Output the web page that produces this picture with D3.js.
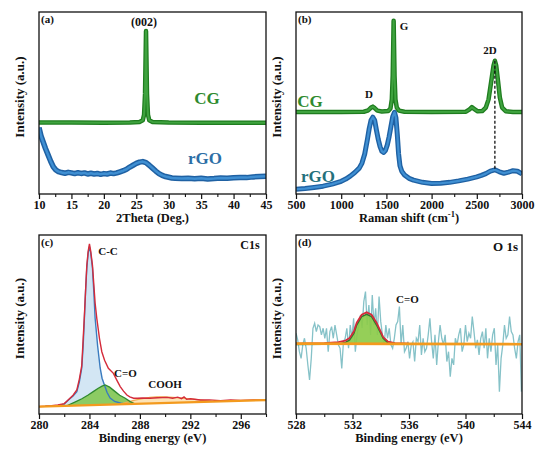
<!DOCTYPE html>
<html><head><meta charset="utf-8">
<script src="https://cdn.jsdelivr.net/npm/d3@7"></script>
<style>
body{margin:0;background:#fff}
svg{display:block}
text{font-family:"Liberation Serif","Times New Roman",serif;font-weight:bold}
</style>
</head><body>
<svg id="chart" width="540" height="451"></svg>
<script>
// ---------- Panel (a) XRD ----------
const xrdTicks = [10, 15, 20, 25, 30, 35, 40, 45];
const xrdMinor = [12.5, 17.5, 22.5, 27.5, 32.5, 37.5, 42.5];
const xrdCgAngle = [10, 15, 20, 24, 25.5, 26.0, 26.2, 26.35, 26.5, 26.65, 26.8, 27.0, 27.5, 30, 35, 40, 45];
const xrdCgInt   = [39.3, 39.3, 39.2, 39.3, 39.6, 40.5, 43.5, 55, 89.6, 55, 43.5, 40.5, 39.6, 39.3, 39.2, 39.2, 39.2];
const xrdRgoAngle = [10, 10.3, 10.6, 11, 11.4, 11.8, 12.2, 12.6, 13, 13.5, 14, 14.5, 15, 15.5, 16, 16.5, 17, 17.5, 18, 18.5, 19, 19.5, 20, 20.5, 21, 21.5, 22, 22.5, 23, 23.5, 24, 24.5, 25, 25.5, 26, 26.5, 27, 27.5, 28, 28.5, 29, 29.5, 30, 30.5, 31, 32, 33, 34, 35, 36, 37, 38, 39, 40, 41, 42, 43, 44, 45];
const xrdRgoInt   = [36.5, 32, 29, 25, 21.5, 18, 15, 13.2, 12.3, 11.8, 11.4, 11.9, 11.6, 11.2, 11.7, 11.3, 11.6, 11.0, 11.4, 11.0, 11.3, 10.8, 11.2, 11.0, 11.5, 11.2, 11.6, 12.2, 12.8, 13.6, 14.8, 15.8, 16.8, 17.5, 17.8, 17.2, 15.8, 14.2, 12.6, 11.2, 10.2, 9.6, 9.2, 8.8, 8.7, 8.5, 8.6, 8.4, 8.6, 8.3, 8.5, 8.8, 8.6, 8.9, 9.1, 9.0, 9.4, 9.6, 9.8];

// ---------- Panel (b) Raman ----------
const ramanTicks = [500, 1000, 1500, 2000, 2500, 3000];
const ramanMinor = [750, 1250, 1750, 2250, 2750];
const ramanCgShift = [500, 1000, 1250, 1300, 1330, 1350, 1370, 1400, 1450, 1520, 1545, 1560, 1570, 1580, 1590, 1600, 1615, 1640, 1700, 2000, 2380, 2420, 2445, 2470, 2510, 2560, 2600, 2630, 2660, 2685, 2700, 2715, 2735, 2755, 2780, 2820, 2900, 3000];
const ramanCgInt   = [45, 45, 45.2, 46, 47.5, 48, 47.2, 45.8, 45.3, 45.6, 47, 52, 65, 95.2, 65, 52, 47.5, 45.8, 45.2, 45, 45.2, 46.5, 47.7, 46.8, 45.4, 45.6, 47.5, 52, 62, 70.5, 73.2, 70.5, 62, 53, 47.5, 45.5, 45.1, 45];
const ramanRgoShift = [500, 600, 700, 800, 900, 1000, 1050, 1100, 1150, 1200, 1230, 1260, 1290, 1310, 1330, 1350, 1370, 1390, 1410, 1430, 1450, 1470, 1490, 1510, 1530, 1550, 1570, 1590, 1605, 1620, 1635, 1650, 1670, 1700, 1750, 1800, 1900, 2000, 2100, 2200, 2300, 2400, 2500, 2550, 2600, 2650, 2700, 2750, 2800, 2850, 2900, 2950, 3000];
const ramanRgoInt   = [2.6, 3.0, 3.6, 4.3, 5.4, 7.0, 8.2, 9.8, 11.8, 14.2, 17, 22, 30, 36, 40.5, 42.2, 40.5, 35, 30, 26, 23.5, 22.8, 24, 27, 31.5, 37, 42.5, 44.9, 42, 33, 22, 15.5, 12.5, 10.5, 8.6, 7.6, 6.4, 5.8, 5.9, 6.4, 7.2, 8.2, 9.4, 10.2, 11.2, 12.6, 13.3, 12.2, 11.4, 12.0, 12.8, 12.5, 11.0];
const ramanMarkShift = 2700;

// ---------- Panel (c) C1s ----------
const c1sTicks = [280, 284, 288, 292, 296];
const c1sMinor = [282, 286, 290, 294, 298];
const c1sBgE = [280, 298];
const c1sBgV = [4.1, 7.8];
const c1sCcE = [280.5, 281, 281.5, 282, 282.33, 282.7, 283.0, 283.2, 283.39, 283.5, 283.6, 283.7, 283.79, 283.9, 284.0, 284.1, 284.24, 284.35, 284.45, 284.65, 284.85, 285.0, 285.19, 285.4, 285.64, 286.0, 286.5, 287];
const c1sCcV = [4.3, 4.5, 4.8, 5.5, 7.8, 10, 12.5, 18, 25.7, 38, 53.5, 70, 81.4, 90, 93.5, 90, 81.6, 68, 53.6, 38, 25.7, 20, 16.2, 12, 8.9, 7, 6.0, 5.4];
const c1sCoE = [282.2, 282.8, 283.4, 283.9, 284.3, 284.7, 285.0, 285.25, 285.6, 286.04, 286.4, 286.84, 287.23, 287.6];
const c1sCoV = [4.6, 6.5, 8.5, 10.6, 12.5, 14.4, 15.6, 16.2, 15, 12.5, 10.5, 8.8, 6.9, 5.7];
const c1sCoohE = [286.4, 287, 287.6, 288.2, 288.8, 289.35, 290, 290.6, 291.2, 291.8, 292.4, 293, 293.6];
const c1sCoohV = [5.4, 6.6, 7.7, 8.6, 9.3, 9.6, 9.5, 9.3, 9.0, 8.6, 8.2, 7.6, 7.0];
const c1sEnvE = [280, 280.5, 281, 281.5, 282, 282.33, 282.7, 283.0, 283.2, 283.39, 283.6, 283.79, 283.9, 284.0, 284.1, 284.24, 284.45, 284.58, 284.8, 284.98, 285.2, 285.5, 285.9, 286.2, 286.44, 286.7, 286.97, 287.2, 287.5, 287.8, 288.2, 288.8, 289.4, 290.15, 290.6, 291.0, 291.3, 291.5, 291.7, 292.0, 292.8, 293.5, 294.4, 295.2, 296, 297, 298];
const c1sEnvV = [4.1, 4.3, 4.6, 5.0, 5.8, 8.0, 10.5, 13.5, 19.5, 27, 55, 83, 91, 95, 91, 83, 62, 53.6, 42, 34.8, 30, 25.5, 22.7, 18.5, 15.3, 12.8, 10.6, 9.6, 8.8, 8.8, 8.9, 8.8, 9.1, 9.3, 8.8, 9.4, 8.6, 9.6, 8.2, 8.5, 7.8, 7.9, 7.4, 7.8, 7.6, 7.9, 7.8];

// ---------- Panel (d) O1s ----------
const o1sTicks = [528, 532, 536, 540, 544];
const o1sMinor = [530, 534, 538, 542];
const o1sRawE = [528.00, 528.12, 528.24, 528.36, 528.48, 528.60, 528.72, 528.84, 528.96, 529.08,
  529.20, 529.32, 529.44, 529.56, 529.68, 529.80, 529.92, 530.04, 530.16, 530.28,
  530.40, 530.52, 530.64, 530.76, 530.88, 531.00, 531.12, 531.24, 531.36, 531.48,
  531.60, 531.72, 531.84, 531.96, 532.08, 532.20, 532.32, 532.44, 532.56, 532.68,
  532.80, 532.92, 533.04, 533.16, 533.28, 533.40, 533.52, 533.64, 533.76, 533.88,
  534.00, 534.12, 534.24, 534.36, 534.48, 534.60, 534.72, 534.84, 534.96, 535.08,
  535.20, 535.32, 535.44, 535.56, 535.68, 535.80, 535.92, 536.04, 536.16, 536.28,
  536.40, 536.52, 536.64, 536.76, 536.88, 537.00, 537.12, 537.24, 537.36, 537.48,
  537.60, 537.72, 537.84, 537.96, 538.08, 538.20, 538.32, 538.44, 538.56, 538.68,
  538.80, 538.92, 539.04, 539.16, 539.28, 539.40, 539.52, 539.64, 539.76, 539.88,
  540.00, 540.12, 540.24, 540.36, 540.48, 540.60, 540.72, 540.84, 540.96, 541.08,
  541.20, 541.32, 541.44, 541.56, 541.68, 541.80, 541.92, 542.04, 542.16, 542.28,
  542.40, 542.52, 542.64, 542.76, 542.88, 543.00, 543.12, 543.24, 543.36, 543.48,
  543.60, 543.72, 543.84, 543.96];
const o1sRawV = [45.1, 41.4, 34.8, 31.1, 38.6, 42.3, 36.7, 27.4, 19.0, 31.1,
  47.9, 50.7, 46.0, 49.7, 48.8, 44.2, 47.9, 42.3, 47.9, 34.8,
  46.0, 48.8, 42.3, 49.7, 44.2, 38.6, 36.7, 25.5, 40.4, 42.3,
  47.9, 36.7, 49.7, 42.3, 53.5, 34.8, 44.2, 49.7, 55.3, 47.9,
  62.8, 68.4, 49.7, 60.9, 44.2, 66.5, 49.7, 59.1, 44.2, 65.6,
  51.6, 44.2, 38.6, 49.7, 42.3, 47.9, 38.6, 36.7, 42.3, 49.7,
  51.6, 60.0, 38.6, 49.7, 34.8, 36.7, 40.4, 31.1, 38.6, 40.4,
  29.3, 42.3, 40.4, 49.7, 33.0, 42.3, 34.8, 36.7, 44.2, 53.5,
  40.4, 31.1, 44.2, 27.4, 40.4, 49.7, 42.3, 38.6, 44.2, 29.3,
  34.8, 20.9, 31.1, 27.4, 42.3, 38.6, 44.2, 47.9, 34.8, 38.6,
  49.7, 40.4, 45.1, 42.3, 54.4, 46.0, 36.7, 41.4, 33.0, 42.3,
  46.0, 36.7, 47.9, 31.1, 42.3, 34.8, 44.2, 47.9, 27.4, 38.6,
  12.5, 31.1, 38.6, 49.7, 42.3, 44.2, 54.4, 46.0, 44.2, 36.7,
  31.1, 40.4, 44.2, 12.5];
const o1sBgE = [528, 544];
const o1sBgV = [39.3, 39.0];
const o1sCoE = [528, 530, 531, 531.5, 531.8, 532.1, 532.3, 532.65, 533.0, 533.35, 533.7, 534.0, 534.17, 534.5, 535, 536, 544];
const o1sCoV = [38.8, 38.9, 39.2, 40, 41.4, 45, 49.7, 54.4, 55.7, 54.4, 49.7, 45, 42.3, 39.8, 39.2, 39.1, 39.0];
const o1sEnvE = [528, 530, 531, 531.5, 531.8, 532.1, 532.3, 532.65, 533.0, 533.35, 533.7, 534.0, 534.17, 534.5, 535, 536, 544];
const o1sEnvV = [39.3, 39.6, 40.2, 41, 42.5, 46.2, 51, 55.5, 56.8, 55.5, 51, 46, 43, 40.5, 39.6, 39.3, 39.2];

// ---------- drawing ----------
const svg = d3.select("#chart");
const zip = (a, b) => a.slice(0, Math.min(a.length, b.length)).map((v, i) => [v, b[i]]);

function makePanel(id, domain, left, right, top, bottom, ticks, minor) {
  const x = d3.scaleLinear().domain(domain).range([left, right]);
  const y = d3.scaleLinear().domain([0, 100]).range([bottom, top]);
  svg.append("clipPath").attr("id", "clip" + id)
    .append("rect").attr("x", left).attr("y", top).attr("width", right - left).attr("height", bottom - top);
  const plot = svg.append("g").attr("clip-path", `url(#clip${id})`);
  const line = d3.line().x(d => x(d[0])).y(d => y(d[1]));
  return {x, y, plot, line, left, right, top, bottom, ticks, minor};
}

function finishPanel(p, xTitle, tag) {
  svg.append("rect").attr("x", p.left).attr("y", p.top)
    .attr("width", p.right - p.left).attr("height", p.bottom - p.top)
    .attr("fill", "none").attr("stroke", "#111").attr("stroke-width", 1.3);
  const ax = svg.append("g").attr("transform", `translate(0,${p.bottom})`)
    .call(d3.axisBottom(p.x).tickValues(p.ticks).tickSize(5).tickPadding(1.5).tickFormat(d3.format("d")));
  ax.select(".domain").remove();
  ax.selectAll("line").attr("stroke", "#111").attr("stroke-width", 1.2);
  ax.selectAll("text").attr("font-size", 12).attr("fill", "#111")
    .style("font-family", '"Liberation Serif","Times New Roman",serif').style("font-weight", "bold");
  const mi = svg.append("g").attr("transform", `translate(0,${p.bottom})`)
    .call(d3.axisBottom(p.x).tickValues(p.minor).tickSize(3).tickFormat(""));
  mi.select(".domain").remove();
  mi.selectAll("line").attr("stroke", "#111").attr("stroke-width", 1.1);
  // y title
  const cy = (p.top + p.bottom) / 2 - 6;
  svg.append("text").attr("transform", `translate(${p.left - 15},${cy}) rotate(-90)`)
    .attr("text-anchor", "middle").attr("font-size", 13).attr("fill", "#111").text("Intensity (a.u.)");
  // x title
  const xt = svg.append("text").attr("x", (p.left + p.right) / 2).attr("y", p.bottom + 28)
    .attr("text-anchor", "middle").attr("font-size", 12.5).attr("fill", "#111");
  xTitle(xt);
  svg.append("text").attr("x", p.left + 2).attr("y", p.top + 10.5)
    .attr("font-size", 11).attr("fill", "#111").text(tag);
}

function label(x, y, txt, size, color, anchor) {
  svg.append("text").attr("x", x).attr("y", y).attr("text-anchor", anchor || "middle")
    .attr("font-size", size).attr("fill", color || "#111").text(txt);
}

// Panel (a)
const pa = makePanel("a", [10, 45], 39, 266, 12, 194, xrdTicks, xrdMinor);
pa.plot.append("path").attr("d", pa.line(zip(xrdRgoAngle, xrdRgoInt)))
  .attr("fill", "none").attr("stroke", "#1f61a3").attr("stroke-width", 5.5).attr("stroke-linejoin", "round");
pa.plot.append("path").attr("d", pa.line(zip(xrdRgoAngle, xrdRgoInt)))
  .attr("fill", "none").attr("stroke", "#3f8fd2").attr("stroke-width", 2.5).attr("stroke-linejoin", "round");
pa.plot.append("path").attr("d", pa.line(zip(xrdCgAngle, xrdCgInt)))
  .attr("fill", "none").attr("stroke", "#1f7d1f").attr("stroke-width", 4.5).attr("stroke-linejoin", "round");
pa.plot.append("path").attr("d", pa.line(zip(xrdCgAngle, xrdCgInt)))
  .attr("fill", "none").attr("stroke", "#3fa33f").attr("stroke-width", 2).attr("stroke-linejoin", "round");
finishPanel(pa, t => t.text("2Theta (Deg.)"), "(a)");
label(144, 25.5, "(002)", 12);
label(207, 103.5, "CG", 17, "#2e8a2e");
label(205, 164, "rGO", 17, "#2c6ea6");

// Panel (b)
const pb = makePanel("b", [500, 3000], 296, 522, 12, 194, ramanTicks, ramanMinor);
pb.plot.append("path").attr("d", pb.line(zip(ramanRgoShift, ramanRgoInt)))
  .attr("fill", "none").attr("stroke", "#1f61a3").attr("stroke-width", 5).attr("stroke-linejoin", "round");
pb.plot.append("path").attr("d", pb.line(zip(ramanRgoShift, ramanRgoInt)))
  .attr("fill", "none").attr("stroke", "#3f8fd2").attr("stroke-width", 2.2).attr("stroke-linejoin", "round");
pb.plot.append("path").attr("d", pb.line(zip(ramanCgShift, ramanCgInt)))
  .attr("fill", "none").attr("stroke", "#1f7d1f").attr("stroke-width", 4.5).attr("stroke-linejoin", "round");
pb.plot.append("path").attr("d", pb.line(zip(ramanCgShift, ramanCgInt)))
  .attr("fill", "none").attr("stroke", "#3fa33f").attr("stroke-width", 2).attr("stroke-linejoin", "round");
const cgAtMark = ramanCgInt[ramanCgShift.indexOf(ramanMarkShift)];
const rgoAtMark = ramanRgoInt[ramanRgoShift.indexOf(ramanMarkShift)];
pb.plot.append("line").attr("x1", pb.x(ramanMarkShift)).attr("x2", pb.x(ramanMarkShift))
  .attr("y1", pb.y(cgAtMark)).attr("y2", pb.y(rgoAtMark))
  .attr("stroke", "#111").attr("stroke-width", 1.3).attr("stroke-dasharray", "3,2");
finishPanel(pb, t => {
  t.append("tspan").text("Raman shift (cm");
  t.append("tspan").attr("dy", -5).attr("font-size", 8.5).text("-1");
  t.append("tspan").attr("dy", 5).text(")");
}, "(b)");
label(369, 98, "D", 11);
label(404, 30, "G", 11);
label(490, 54, "2D", 11);
label(310, 107, "CG", 17, "#2e8a2e");
label(318, 181.5, "rGO", 17, "#24707c");

// Panel (c)
const pc = makePanel("c", [280, 298], 39, 266, 235, 414, c1sTicks, c1sMinor);
const bgC = d3.scaleLinear().domain(c1sBgE).range(c1sBgV);
const areaC = d3.area().x(d => pc.x(d[0])).y0(d => pc.y(bgC(d[0]))).y1(d => pc.y(d[1]));
pc.plot.append("path").attr("d", areaC(zip(c1sCcE, c1sCcV))).attr("fill", "#d3e6f4");
pc.plot.append("path").attr("d", areaC(zip(c1sCoohE, c1sCoohV))).attr("fill", "#fde3b6");
pc.plot.append("path").attr("d", areaC(zip(c1sCoE, c1sCoV))).attr("fill", "#8ccb63");
pc.plot.append("path").attr("d", pc.line(zip(c1sCcE, c1sCcV))).attr("fill", "none").attr("stroke", "#3a7bbf").attr("stroke-width", 1.4);
pc.plot.append("path").attr("d", pc.line(zip(c1sCoohE, c1sCoohV))).attr("fill", "none").attr("stroke", "#f0aa50").attr("stroke-width", 1.3);
pc.plot.append("path").attr("d", pc.line(zip(c1sCoE, c1sCoV))).attr("fill", "none").attr("stroke", "#2f8a2f").attr("stroke-width", 1.3);
pc.plot.append("path").attr("d", pc.line(zip(c1sEnvE, c1sEnvV))).attr("fill", "none").attr("stroke", "#d42b3a").attr("stroke-width", 1.4);
pc.plot.append("path").attr("d", pc.line(zip(c1sBgE, c1sBgV))).attr("fill", "none").attr("stroke", "#f39a1e").attr("stroke-width", 2.2);
finishPanel(pc, t => t.text("Binding energy (eV)"), "(c)");
label(108, 254.5, "C-C", 11);
label(250, 249, "C1s", 12);
label(125.5, 377, "C=O", 11);
label(165, 388, "COOH", 11);

// Panel (d)
const pd = makePanel("d", [528, 544], 296, 522, 235, 414, o1sTicks, o1sMinor);
const bgD = d3.scaleLinear().domain(o1sBgE).range(o1sBgV);
const areaD = d3.area().x(d => pd.x(d[0])).y0(d => pd.y(bgD(d[0]))).y1(d => pd.y(d[1]));
pd.plot.append("path").attr("d", pd.line(zip(o1sRawE, o1sRawV))).attr("fill", "none").attr("stroke", "#86c2c8").attr("stroke-width", 1.3);
pd.plot.append("path").attr("d", areaD(zip(o1sCoE, o1sCoV))).attr("fill", "#8ccb4a").attr("fill-opacity", 0.92);
pd.plot.append("path").attr("d", pd.line(zip(o1sCoE, o1sCoV))).attr("fill", "none").attr("stroke", "#2f7a2f").attr("stroke-width", 1.4);
pd.plot.append("path").attr("d", pd.line(zip(o1sEnvE, o1sEnvV))).attr("fill", "none").attr("stroke", "#d42b3a").attr("stroke-width", 1.8);
pd.plot.append("path").attr("d", pd.line(zip(o1sBgE, o1sBgV))).attr("fill", "none").attr("stroke", "#f39a1e").attr("stroke-width", 2.6);
finishPanel(pd, t => t.text("Binding energy (eV)"), "(d)");
label(505.5, 250.5, "O 1s", 13);
label(407.5, 303, "C=O", 11);
</script>
</body></html>
